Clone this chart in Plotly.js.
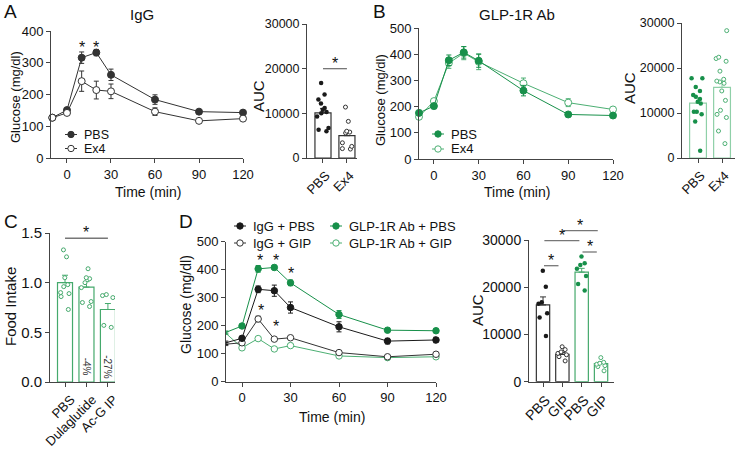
<!DOCTYPE html>
<html><head><meta charset="utf-8">
<script src="https://cdn.plot.ly/plotly-3.0.1.min.js"></script>
<style>html,body{margin:0;padding:0;background:#fff}</style>
</head><body><div id="chart" style="width:738px;height:451px"></div>
<script>
// ---------------- DATA ----------------
const timeMin = [-10, 0, 10, 20, 30, 60, 90, 120];
const timeTicks = [0, 30, 60, 90, 120];

// Panel A (IgG)
const A_pbs = [127, 151, 316, 332, 262, 184, 146, 143];
const A_pbs_sem = [5, 6, 18, 10, 18, 15, 6, 5];
const A_ex4 = [127, 142, 242, 214, 210, 146, 117, 124];
const A_ex4_sem = [5, 5, 32, 28, 23, 12, 4, 4];
const A_groups = ['PBS', 'Ex4'];
const A_auc_mean = [10100, 5000];
const A_auc_sem = [1000, 1000];
const A_auc_pbs = [16800, 14200, 13100, 12200, 11200, 10800, 10300, 10000, 9300, 6700, 6300, 6000];
const A_auc_ex4 = [11400, 8200, 6000, 5800, 5600, 3400, 2600, 2100, 2000];

// Panel B (GLP-1R Ab)
const B_pbs = [176, 202, 377, 407, 375, 261, 170, 166];
const B_pbs_sem = [10, 10, 20, 22, 25, 20, 8, 8];
const B_ex4 = [161, 221, 366, 404, 371, 289, 215, 189];
const B_ex4_sem = [8, 10, 20, 25, 30, 20, 15, 8];
const B_groups = ['PBS', 'Ex4'];
const B_auc_mean = [12200, 15700];
const B_auc_sem = [1100, 1250];
const B_auc_pbs = [17700, 17700, 15800, 14900, 14000, 13600, 13100, 12500, 12100, 10300, 10300, 9700, 8100, 1600];
const B_auc_ex4 = [28300, 22400, 22100, 21500, 19300, 17500, 17100, 16900, 16600, 14900, 12800, 10600, 9700, 9000, 6000, 3200];

// Panel C (food intake)
const C_groups = ['PBS', 'Dulaglutide', 'Ac-G IP'];
const C_mean = [1.0, 0.955, 0.73];
const C_sem = [0.075, 0.055, 0.06];
const C_pct = ['', '-4%', '-27%'];
const C_pbs = [1.33, 1.26, 1.05, 0.98, 0.96, 0.90, 0.89, 0.86, 0.73];
const C_dula = [1.14, 1.05, 1.04, 1.0, 0.95, 0.81, 0.80, 0.76];
const C_acg = [0.88, 0.87, 0.85, 0.57, 0.55];

// Panel D
const D_names = ['IgG + PBS', 'IgG + GIP', 'GLP-1R Ab + PBS', 'GLP-1R Ab + GIP'];
const D_igg_pbs = [139, 155, 330, 325, 265, 196, 145, 149];
const D_igg_pbs_sem = [6, 6, 12, 20, 20, 18, 10, 10];
const D_igg_gip = [134, 139, 224, 152, 157, 104, 89, 98];
const D_igg_gip_sem = [5, 5, 10, 5, 5, 4, 4, 4];
const D_glp_pbs = [176, 199, 403, 408, 353, 240, 184, 182];
const D_glp_pbs_sem = [5, 5, 12, 8, 10, 14, 5, 5];
const D_glp_gip = [173, 121, 154, 117, 129, 92, 86, 89];
const D_glp_gip_sem = [4, 4, 4, 4, 4, 3, 3, 3];
const D_groups = ['PBS', 'GIP', 'PBS', 'GIP'];
const D_auc_mean = [16250, 5800, 23200, 3850];
const D_auc_sem = [1700, 400, 800, 350];
const D_auc_igg_pbs = [23500, 20100, 16800, 16500, 14500, 13600, 9700];
const D_auc_igg_gip = [7400, 6800, 6300, 6000, 5700, 5300, 4400];
const D_auc_glp_pbs = [26500, 25100, 24700, 23900, 22400, 20700, 19300];
const D_auc_glp_gip = [5100, 4100, 3900, 3700, 3400, 3200, 2300];

// ---------------- STYLE ----------------
const FONT = 'Liberation Sans, Arial, sans-serif';
const W = 738, H = 451;
const px = v => v / W;
const py = v => 1 - v / H;
const BLACK = '#1a1a1a', AXC = '#444', GREEN = '#17904a', GREEN_OPEN = '#4caf73',
      GREEN_BAR_B = '#8fd0a8', GREEN_BAR = '#45a96c', SIG = '#777';

const traces = [], shapes = [], annotations = [];

function lineTrace(xa, ya, y, sem, color, filled, size) {
  return {type: 'scatter', mode: 'lines+markers', x: timeMin, y: y, xaxis: xa, yaxis: ya,
    line: {color: color, width: 1},
    marker: {size: size || 7, color: filled ? color : '#fff', line: {color: color, width: 1}},
    error_y: {type: 'data', array: sem, visible: true, color: color, thickness: 1, width: 2.5},
    showlegend: false, cliponaxis: false};
}
function barTrace(xa, ya, xs, means, sems, color, width) {
  return {type: 'bar', x: xs, y: means, xaxis: xa, yaxis: ya, width: width,
    marker: {color: '#fff', line: {color: color, width: 1.2}},
    error_y: {type: 'data', symmetric: false, array: sems, arrayminus: sems.map(() => 0),
      color: color, thickness: 1, width: 3},
    showlegend: false, hoverinfo: 'y'};
}
function dotTrace(xa, ya, pos, vals, color, filled) {
  return {type: 'box', y: vals, x0: pos, xaxis: xa, yaxis: ya, boxpoints: 'all',
    jitter: 0.85, pointpos: 0, width: 0.7, fillcolor: 'rgba(0,0,0,0)',
    line: {color: 'rgba(0,0,0,0)', width: 0}, whiskerwidth: 0,
    marker: {size: filled ? 4.5 : 4, color: filled ? color : '#fff',
      line: {color: color, width: filled ? 0 : 1}},
    showlegend: false, hoverinfo: 'y'};
}
function axis(domain, range, extra) {
  return Object.assign({domain: domain, range: range, type: 'linear', showline: true,
    linecolor: AXC, linewidth: 1, ticks: 'outside', ticklen: 4, tickcolor: AXC, tickwidth: 1,
    showgrid: false, zeroline: false, fixedrange: true,
    tickfont: {family: FONT, size: 13, color: '#111'}}, extra);
}
function txt(x, y, text, size, opts) {
  annotations.push(Object.assign({xref: 'paper', yref: 'paper', x: px(x), y: py(y), text: text,
    showarrow: false, font: {family: FONT, size: size, color: '#111'},
    xanchor: 'center', yanchor: 'middle'}, opts || {}));
}
function star(xref, yref, x, y, yanchor) {
  annotations.push({xref: xref, yref: yref, x: x, y: y, text: '*', showarrow: false,
    font: {family: FONT, size: 16, color: '#111'}, xanchor: 'center', yanchor: yanchor || 'middle', yshift: -4});
}
function legItem(x, y, color, filled, label, size) {
  shapes.push({type: 'line', xref: 'paper', yref: 'paper', x0: px(x - 6), x1: px(x + 6),
    y0: py(y), y1: py(y), line: {color: color, width: 1}});
  shapes.push({type: 'circle', xref: 'paper', yref: 'paper', xsizemode: 'pixel', ysizemode: 'pixel',
    xanchor: px(x), yanchor: py(y), x0: -3.2, x1: 3.2, y0: -3.2, y1: 3.2,
    fillcolor: filled ? color : '#fff', line: {color: color, width: 1}});
  txt(x + 12, y, label, size || 13, {xanchor: 'left', borderpad: 0});
}
function vPaper(dom, range, v) { return dom[0] + (v - range[0]) / (range[1] - range[0]) * (dom[1] - dom[0]); }

// ---------------- AXES ----------------
const dA = [py(158), py(31)], dA2 = [py(158), py(24)];
const dB = [py(159), py(28)], dB2 = [py(158), py(23)];
const dC = [py(382), py(233)];
const dD = [py(381.7), py(241.7)], dD2 = [py(381.7), py(240)];
const aucRange = [0, 30000];
const aucTicks = [0, 10000, 20000, 30000];

const layout = {
  width: W, height: H, margin: {l: 0, r: 0, t: 0, b: 0},
  paper_bgcolor: '#fff', plot_bgcolor: 'rgba(0,0,0,0)',
  barmode: 'overlay', boxmode: 'overlay', showlegend: false,
  font: {family: FONT, color: '#111'},
  xaxis:  axis([px(51), px(243)], [-10.9, 120], {anchor: 'y', tickvals: timeTicks}),
  yaxis:  axis(dA, [0, 400], {anchor: 'x', tickvals: [0, 100, 200, 300, 400]}),
  xaxis2: axis([px(307), px(357)], [-0.667, 1.42], {anchor: 'y2', tickvals: [0, 1], ticktext: A_groups, tickangle: -45, ticklabelshift: 3}),
  yaxis2: axis(dA2, aucRange, {anchor: 'x2', tickvals: aucTicks, tickformat: 'd', tickfont: {family: FONT, size: 12.5, color: '#111'}}),
  xaxis3: axis([px(419), px(613)], [-10, 120], {anchor: 'y3', tickvals: timeTicks}),
  yaxis3: axis(dB, [0, 500], {anchor: 'x3', tickvals: [0, 100, 200, 300, 400, 500]}),
  xaxis4: axis([px(682), px(735)], [-0.667, 1.54], {anchor: 'y4', tickvals: [0, 1], ticktext: B_groups, tickangle: -45, ticklabelshift: 3}),
  yaxis4: axis(dB2, aucRange, {anchor: 'x4', tickvals: aucTicks, tickformat: 'd', tickfont: {family: FONT, size: 12.5, color: '#111'}}),
  xaxis5: axis([px(50), px(115)], [-0.7, 2.33], {anchor: 'y5', tickvals: [0, 1, 2], ticktext: C_groups, tickangle: -45, ticklabelshift: 6, tickfont: {family: FONT, size: 13, color: '#111'}}),
  yaxis5: axis(dC, [0, 1.5], {anchor: 'x5', tickvals: [0, 0.5, 1.0, 1.5], tickformat: '.1f', tickfont: {family: FONT, size: 15, color: '#111'}}),
  xaxis6: axis([px(226), px(436)], [-9.9, 120], {anchor: 'y6', tickvals: timeTicks}),
  yaxis6: axis(dD, [0, 500], {anchor: 'x6', tickvals: [0, 100, 200, 300, 400, 500]}),
  xaxis7: axis([px(529), px(614)], [-0.725, 3.67], {anchor: 'y7', tickvals: [0, 1, 2, 3], ticktext: D_groups, tickangle: -45, ticklabelshift: 3, tickfont: {family: FONT, size: 14, color: '#111'}}),
  yaxis7: axis(dD2, aucRange, {anchor: 'x7', tickvals: aucTicks, tickformat: 'd', tickfont: {family: FONT, size: 14, color: '#111'}}),
  shapes: shapes, annotations: annotations
};

// ---------------- TRACES ----------------
// A
traces.push(lineTrace('x', 'y', A_pbs, A_pbs_sem, '#333', true));
traces.push(lineTrace('x', 'y', A_ex4, A_ex4_sem, '#333', false));
traces.push(barTrace('x2', 'y2', [0, 1], A_auc_mean, A_auc_sem, '#333', 0.67));
traces.push(dotTrace('x2', 'y2', 0, A_auc_pbs, BLACK, true));
traces.push(dotTrace('x2', 'y2', 1, A_auc_ex4, '#333', false));
// B
traces.push(lineTrace('x3', 'y3', B_ex4, B_ex4_sem, GREEN_OPEN, false));
traces.push(lineTrace('x3', 'y3', B_pbs, B_pbs_sem, GREEN, true));
traces.push(barTrace('x4', 'y4', [0, 1], B_auc_mean, B_auc_sem, GREEN_BAR_B, 0.7));
traces.push(dotTrace('x4', 'y4', 0, B_auc_pbs, GREEN, true));
traces.push(dotTrace('x4', 'y4', 1, B_auc_ex4, GREEN_OPEN, false));
// C
traces.push(barTrace('x5', 'y5', [0, 1, 2], C_mean, C_sem, GREEN_BAR, 0.7));
traces.push(dotTrace('x5', 'y5', 0, C_pbs, GREEN_BAR, false));
traces.push(dotTrace('x5', 'y5', 1, C_dula, GREEN_BAR, false));
traces.push(dotTrace('x5', 'y5', 2, C_acg, GREEN_BAR, false));
// D
traces.push(lineTrace('x6', 'y6', D_glp_gip, D_glp_gip_sem, GREEN_OPEN, false, 6.5));
traces.push(lineTrace('x6', 'y6', D_igg_gip, D_igg_gip_sem, '#333', false, 6.5));
traces.push(lineTrace('x6', 'y6', D_glp_pbs, D_glp_pbs_sem, GREEN, true, 6.5));
traces.push(lineTrace('x6', 'y6', D_igg_pbs, D_igg_pbs_sem, BLACK, true, 6.5));
traces.push(barTrace('x7', 'y7', [0, 1], D_auc_mean.slice(0, 2), D_auc_sem.slice(0, 2), '#333', 0.69));
traces.push(barTrace('x7', 'y7', [2, 3], D_auc_mean.slice(2), D_auc_sem.slice(2), GREEN_BAR, 0.69));
traces.push(dotTrace('x7', 'y7', 0, D_auc_igg_pbs, BLACK, true));
traces.push(dotTrace('x7', 'y7', 1, D_auc_igg_gip, '#333', false));
traces.push(dotTrace('x7', 'y7', 2, D_auc_glp_pbs, GREEN, true));
traces.push(dotTrace('x7', 'y7', 3, D_auc_glp_gip, GREEN_OPEN, false));

// ---------------- TEXT / DECORATIONS ----------------
txt(2, 11.5, 'A', 19, {xanchor: 'left'});
txt(142, 15, 'IgG', 15);
txt(371, 11.5, 'B', 19, {xanchor: 'left'});
txt(517, 15, 'GLP-1R Ab', 15);
txt(2, 221.5, 'C', 19, {xanchor: 'left'});
txt(177, 221.5, 'D', 19, {xanchor: 'left'});

// axis titles
txt(15, 97, 'Glucose (mg/dl)', 13, {textangle: -90});
txt(148, 192, 'Time (min)', 14);
txt(258, 96, 'AUC', 15, {textangle: -90});
txt(381, 100, 'Glucose (mg/dl)', 13, {textangle: -90});
txt(517, 192, 'Time (min)', 14);
txt(630, 88, 'AUC', 15, {textangle: -90});
txt(10, 307, 'Food Intake', 15, {textangle: -90});
txt(186, 305, 'Glucose (mg/dl)', 14, {textangle: -90});
txt(332, 417, 'Time (min)', 14);
txt(477, 310, 'AUC', 15, {textangle: -90});

// legends
legItem(71, 134.5, '#333', true, 'PBS', 12.5);
legItem(71, 148.5, '#333', false, 'Ex4', 12.5);
legItem(438, 134, GREEN, true, 'PBS');
legItem(438, 149, GREEN_OPEN, false, 'Ex4');
legItem(240, 226, BLACK, true, D_names[0]);
legItem(240, 243, '#333', false, D_names[1]);
legItem(336, 226, GREEN, true, D_names[2]);
legItem(336, 243, GREEN_OPEN, false, D_names[3]);

// stars on time courses
star('x', 'y', 10, 362); star('x', 'y', 20, 362);
star('x6', 'y6', 11, 446); star('x6', 'y6', 21, 446); star('x6', 'y6', 30, 401);
star('x6', 'y6', 11.5, 270); star('x6', 'y6', 21, 212);

// significance bars
function sigBar(xref, x0, x1, yPaper) {
  shapes.push({type: 'line', xref: xref, yref: 'paper', x0: x0, x1: x1, y0: yPaper, y1: yPaper,
    line: {color: SIG, width: 1.3}});
  annotations.push({xref: xref, yref: 'paper', x: (x0 + x1) / 2, y: yPaper, text: '*', showarrow: false,
    font: {family: FONT, size: 16, color: '#111'}, xanchor: 'center', yanchor: 'bottom', yshift: -5});
}
sigBar('x2', 0, 1, vPaper(dA2, aucRange, 20000));
sigBar('x5', 0, 2, vPaper(dC, [0, 1.5], 1.447));
sigBar('x7', 0.05, 0.8, vPaper(dD2, aucRange, 24560));
sigBar('x7', 0.07, 1.88, vPaper(dD2, aucRange, 29850));
sigBar('x7', 1.02, 2.83, vPaper(dD2, aucRange, 31970));
sigBar('x7', 2.04, 2.78, vPaper(dD2, aucRange, 27460));

// percent labels inside bars (C)
C_pct.forEach((t, i) => {
  if (t) annotations.push({xref: 'x5', yref: 'y5', x: i, y: 0.15, text: t, textangle: 90, showarrow: false,
    font: {family: FONT, size: 10, color: '#333'}, xanchor: 'center', yanchor: 'middle'});
});

Plotly.newPlot('chart', traces, layout, {displayModeBar: false, staticPlot: true});
</script></body></html>
